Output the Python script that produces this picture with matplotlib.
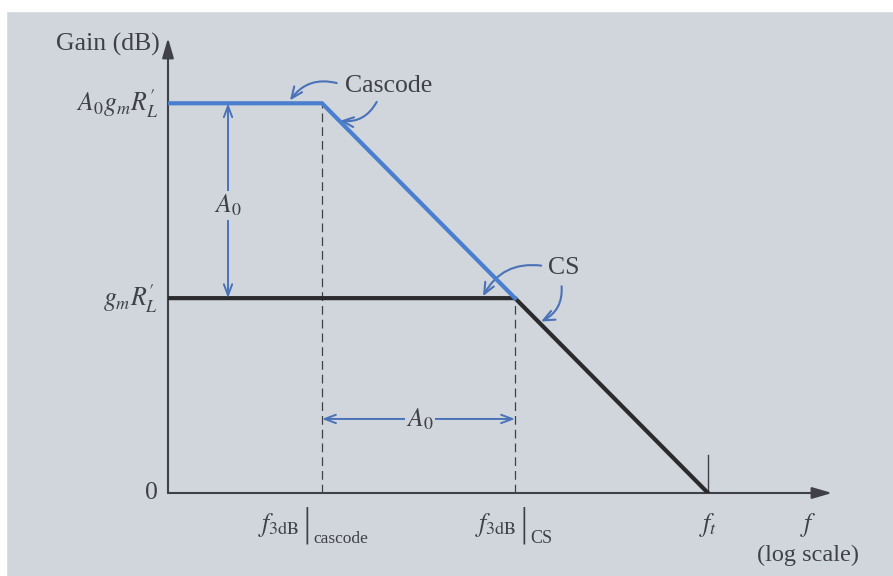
import matplotlib.pyplot as plt
from matplotlib.patches import Rectangle

plt.rcParams['font.family'] = ['Liberation Serif', 'DejaVu Serif']
plt.rcParams['mathtext.fontset'] = 'stix'

# Bode asymptotes (frequencies in arbitrary units, gain in dB)
f_start = 10 ** 0.202
f_cascode = 10.0
f_cs = 100.0
f_t = 1000.0
gain_cs = 20.0        # g_m R'_L
a0_db = 20.0          # A_0
gain_cascode = gain_cs + a0_db

cascode_f = [f_start, f_cascode, f_cs]
cascode_gain = [gain_cascode, gain_cascode, gain_cs]
cs_f = [f_start, f_cs, f_t]
cs_gain = [gain_cs, gain_cs, 0.0]

ytick_vals = [gain_cascode, gain_cs, 0.0]
ytick_labels = [r"$A_0 g_m R^{\prime}_{L}$", r"$g_m R^{\prime}_{L}$", "0"]
corner_f = [f_cascode, f_cs]
corner_subs = ['cascode', 'CS']

bg = '#d1d5dc'
ink = '#404147'
blue = '#4a7fcf'
arrow_blue = '#4a72b8'

fig = plt.figure(figsize=(8.93, 5.76), dpi=100, facecolor=bg)
# paper edges
fig.patches.append(Rectangle((0, 1 - 11 / 576), 1, 11 / 576, transform=fig.transFigure,
                             color='white', zorder=0))
fig.patches.append(Rectangle((0, 0), 6 / 893, 1, transform=fig.transFigure,
                             color='white', zorder=0))

ax = fig.add_axes([168 / 893, 1 - 493 / 576, (832 - 168) / 893, (493 - 38) / 576])
ax.set_facecolor('none')
ax.set_xscale('log')
ax.set_xlim(f_start, 10 ** (3 + 124 / 193))
ax.set_ylim(0, 46.7)
for s in ax.spines.values():
    s.set_visible(False)
ax.set_xticks([])
ax.set_yticks([])
ax.minorticks_off()

# axes with arrow heads
head = '-|>,head_length=1.2,head_width=0.35'
ax.annotate('', xy=(1, 0), xytext=(0, 0), xycoords='axes fraction',
            arrowprops=dict(arrowstyle=head, color=ink, lw=1.5, shrinkA=0, shrinkB=0))
ax.annotate('', xy=(0, 1), xytext=(0, 0), xycoords='axes fraction',
            arrowprops=dict(arrowstyle=head, color=ink, lw=1.5, shrinkA=0, shrinkB=0))

# dashed corner markers and f_t tick
ax.plot([f_cascode, f_cascode], [0, gain_cascode], color=ink, lw=0.9, ls=(0, (7, 4)))
ax.plot([f_cs, f_cs], [0, gain_cs], color=ink, lw=0.9, ls=(0, (7, 4)))
ax.plot([f_t, f_t], [0, 3.9], color=ink, lw=1.0)

# response curves
ax.plot(cs_f, cs_gain, color='#2b2b2e', lw=3.0, solid_joinstyle='miter', zorder=3)
ax.plot(cascode_f, cascode_gain, color=blue, lw=3.0, solid_joinstyle='miter', zorder=4)

fs = 18.5

# y labels
for v, lab in zip(ytick_vals, ytick_labels):
    ax.annotate(lab, xy=(f_start, v), xytext=(-7, 0), textcoords='offset points',
                ha='right', va='center', fontsize=fs, color=ink)
ax.text(-0.012, 0.985, 'Gain (dB)', transform=ax.transAxes, ha='right', va='center',
        fontsize=fs, color=ink)

# x labels: f_3dB with an evaluation bar and subscript
bar_offsets = [-11, 6]   # points, from the corner frequency to the bar
for f, sub, dx in zip(corner_f, corner_subs, bar_offsets):
    ax.annotate(r'$f_{3\mathrm{dB}}$', xy=(f, 0), xytext=(dx - 5, -13),
                textcoords='offset points', ha='right', va='top', fontsize=fs, color=ink)
    ax.annotate('|', xy=(f, 0), xytext=(dx, -10), textcoords='offset points',
                ha='center', va='top', fontsize=27, color=ink, family='DejaVu Sans',
                fontweight='light')
    ax.annotate(sub, xy=(f, 0), xytext=(dx + 5, -33), textcoords='offset points',
                ha='left', va='center', fontsize=13 if sub == 'CS' else 12.5, color=ink)
ax.annotate(r'$f_t$', xy=(f_t, 0), xytext=(0, -13), textcoords='offset points',
            ha='center', va='top', fontsize=fs, color=ink)
ax.annotate(r'$f$', xy=(10 ** 3.52, 0), xytext=(0, -13), textcoords='offset points',
            ha='center', va='top', fontsize=fs, color=ink)
ax.annotate('(log scale)', xy=(10 ** 3.52, 0), xytext=(0, -37), textcoords='offset points',
            ha='center', va='top', fontsize=fs - 1, color=ink)

# A0 spans
span = dict(arrowstyle='<->,head_length=0.8,head_width=0.3', color=arrow_blue, lw=1.4,
            shrinkA=0, shrinkB=0)
f_a0 = 10 ** 0.513
ax.annotate('', xy=(f_a0, gain_cs), xytext=(f_a0, gain_cascode), arrowprops=span)
ax.text(f_a0, 29.5, r'$A_0$', ha='center', va='center', fontsize=fs, color=ink,
        bbox=dict(facecolor=bg, edgecolor='none', pad=1))
y_a0 = 7.6
ax.annotate('', xy=(f_cascode, y_a0), xytext=(f_cs, y_a0), arrowprops=span)
ax.text(10 ** 1.508, y_a0, r'$A_0$', ha='center', va='center', fontsize=fs, color=ink,
        bbox=dict(facecolor=bg, edgecolor='none', pad=1))

# curve call-outs
arrow_kw = dict(arrowstyle='->,head_length=0.8,head_width=0.35', color=arrow_blue, lw=1.5,
                shrinkA=2, shrinkB=0)
ax.text(10 ** 1.119, 41.8, 'Cascode', ha='left', va='center', fontsize=fs, color=ink)
ax.annotate('', xy=(10 ** 0.834, 40.3), xytext=(10 ** 1.09, 42.0),
            arrowprops=dict(connectionstyle='arc3,rad=0.35', **arrow_kw))
ax.annotate('', xy=(10 ** 1.093, 38.2), xytext=(10 ** 1.29, 40.4),
            arrowprops=dict(connectionstyle='arc3,rad=-0.35', **arrow_kw))
ax.text(10 ** 2.171, 23.1, 'CS', ha='left', va='center', fontsize=fs, color=ink)
ax.annotate('', xy=(10 ** 1.834, 20.2), xytext=(10 ** 2.15, 23.3),
            arrowprops=dict(connectionstyle='arc3,rad=0.35', **arrow_kw))
ax.annotate('', xy=(10 ** 2.135, 17.6), xytext=(10 ** 2.24, 21.5),
            arrowprops=dict(connectionstyle='arc3,rad=-0.35', **arrow_kw))

fig.savefig('out.png', dpi=100, facecolor=bg)
